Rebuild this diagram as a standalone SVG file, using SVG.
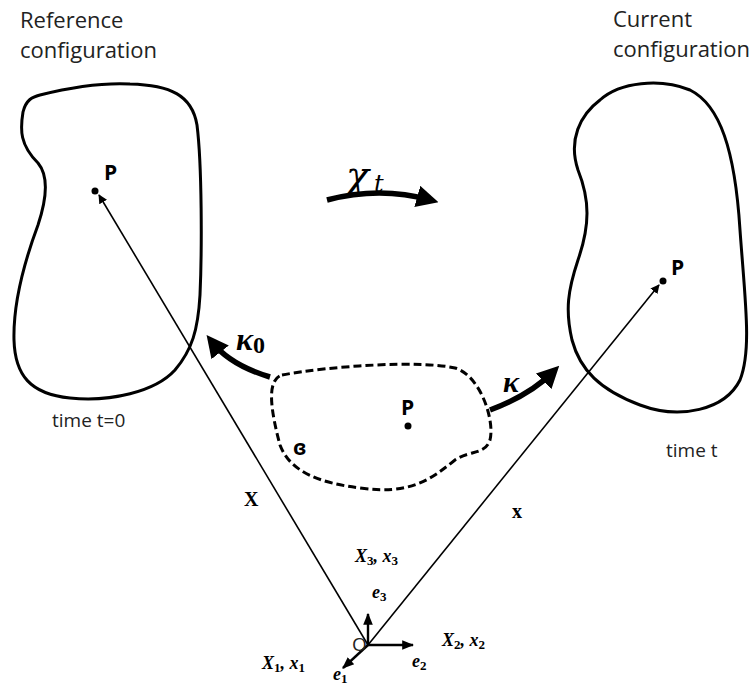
<svg xmlns="http://www.w3.org/2000/svg" width="754" height="689" viewBox="0 0 754 689">
<style>
.title{font-family:"Open Sans","Noto Sans",sans-serif;font-size:22px;fill:#222}
.small{font-family:"Open Sans","Noto Sans",sans-serif;font-size:19px;fill:#222}
.p{font-family:"Open Sans","Noto Sans",sans-serif;font-size:21px;font-weight:bold;fill:#000}
.math{font-family:"DejaVu Serif","Liberation Serif",serif;font-style:italic;fill:#000}
.bm{font-family:"Liberation Serif","DejaVu Serif",serif;font-weight:bold;fill:#000}
.lab{font-family:"Liberation Serif","DejaVu Serif",serif;font-style:italic;font-weight:bold;fill:#000}
.body{fill:none;stroke:#000;stroke-width:3}
.thin{fill:none;stroke:#000;stroke-width:1.6}
.thick{fill:none;stroke:#000;stroke-width:5.5}
.ax{fill:none;stroke:#000;stroke-width:2.4}
</style>
<defs>
<marker id="ah" viewBox="0 0 10 10" refX="9" refY="5" markerWidth="9" markerHeight="9" markerUnits="userSpaceOnUse" orient="auto"><path d="M0,0 L10,5 L0,10 Z" fill="#000"/></marker>
<marker id="ahs" viewBox="0 0 10 10" refX="9" refY="5" markerWidth="12" markerHeight="12" markerUnits="userSpaceOnUse" orient="auto"><path d="M0,1 L10,5 L0,9 Z" fill="#000"/></marker>
<marker id="ahb" viewBox="0 0 10 10" refX="6" refY="5" markerWidth="4" markerHeight="4" orient="auto"><path d="M0,0 L10,5 L0,10 Z" fill="#000"/></marker>
</defs>
<g id="labels">
<text class="title" x="20" y="28" font-size="25">Reference</text>
<text class="title" x="20" y="58" font-size="25">configuration</text>
<text class="title" x="613" y="27">Current</text>
<text class="title" x="613" y="57">configuration</text>
<text class="small" x="52" y="427">time t=0</text>
<text class="small" x="666" y="457">time t</text>
</g>
<g id="reference-body">
<path class="body" d="M40,95 C80,85 110,83 130,84 C170,85 192,95 197,125 C202,165 202,250 200,295 C198,330 192,350 175,370 C155,392 110,402 70,398 C30,394 15,375 14,340 C13,300 25,260 38,225 C48,195 48,175 38,163 C20,145 20,130 23,112 C26,100 32,97 40,95 Z"/>
<circle cx="95" cy="191" r="3.5"/>
<text class="p" x="104" y="180">P</text>
</g>
<g id="current-body">
<path class="body" d="M600,100 C620,82 660,78 690,90 C720,105 735,150 740,230 C745,300 752,350 740,380 C725,410 680,420 640,405 C600,390 580,370 572,340 C565,310 568,290 578,260 C590,225 590,200 578,170 C568,140 580,115 600,100 Z"/>
<circle cx="663" cy="281" r="3.5"/>
<text class="p" x="671" y="275">P</text>
</g>
<g id="intermediate-body">
<path class="body" stroke-dasharray="8,4" d="M282,375 C330,366 420,360 455,368 C480,375 495,420 490,440 C485,455 470,450 455,460 C430,480 410,495 360,488 C320,483 290,472 280,445 C272,415 265,380 282,375 Z"/>
<circle cx="408" cy="426" r="3.5"/>
<text class="p" x="401" y="415">P</text>
<text class="p" x="293" y="455" font-size="18">ɞ</text>
</g>
<g id="connectors">
<line class="thin" x1="368" y1="645" x2="99" y2="195" marker-end="url(#ah)"/>
<line class="thin" x1="368" y1="645" x2="659" y2="285" marker-end="url(#ah)"/>
<path class="thick" d="M327,200 Q380,186 430,200" marker-end="url(#ahb)"/>
<path class="thick" d="M270,377 Q230,365 212,342" marker-end="url(#ahb)"/>
<path class="thick" d="M490,410 Q530,395 553,372" marker-end="url(#ahb)"/>
<line class="ax" x1="368" y1="645" x2="368" y2="614" marker-end="url(#ahs)"/>
<line class="ax" x1="368" y1="645" x2="413" y2="645" marker-end="url(#ahs)"/>
<line class="ax" x1="368" y1="645" x2="343" y2="668" marker-end="url(#ahs)"/>
</g>
<g id="math-labels">
<text class="math" x="346" y="188" font-size="38">χ</text>
<text class="math" x="374" y="192" font-size="24">t</text>
<text class="lab" x="236" y="350" font-size="32">κ<tspan font-style="normal" font-size="24" dy="3">0</tspan></text>
<text class="lab" x="503" y="392" font-size="30">κ</text>
<text class="bm" x="244" y="506" font-size="20">X</text>
<text class="bm" x="512" y="518" font-size="20">x</text>
<text class="small" x="352" y="651" font-size="15">O</text>
<text class="lab" x="372" y="598" font-size="18">e<tspan font-size="13" dy="3" font-style="normal">3</tspan></text>
<text class="lab" x="412" y="667" font-size="18">e<tspan font-size="13" dy="3" font-style="normal">2</tspan></text>
<text class="lab" x="333" y="680" font-size="18">e<tspan font-size="13" dy="3" font-style="normal">1</tspan></text>
<text class="lab" x="355" y="562" font-size="18">X<tspan font-size="13" dy="3" font-style="normal">3</tspan><tspan dy="-3">, x</tspan><tspan font-size="13" dy="3" font-style="normal">3</tspan></text>
<text class="lab" x="442" y="646" font-size="18">X<tspan font-size="13" dy="3" font-style="normal">2</tspan><tspan dy="-3">, x</tspan><tspan font-size="13" dy="3" font-style="normal">2</tspan></text>
<text class="lab" x="262" y="669" font-size="18">X<tspan font-size="13" dy="3" font-style="normal">1</tspan><tspan dy="-3">, x</tspan><tspan font-size="13" dy="3" font-style="normal">1</tspan></text>
</g>
</svg>
